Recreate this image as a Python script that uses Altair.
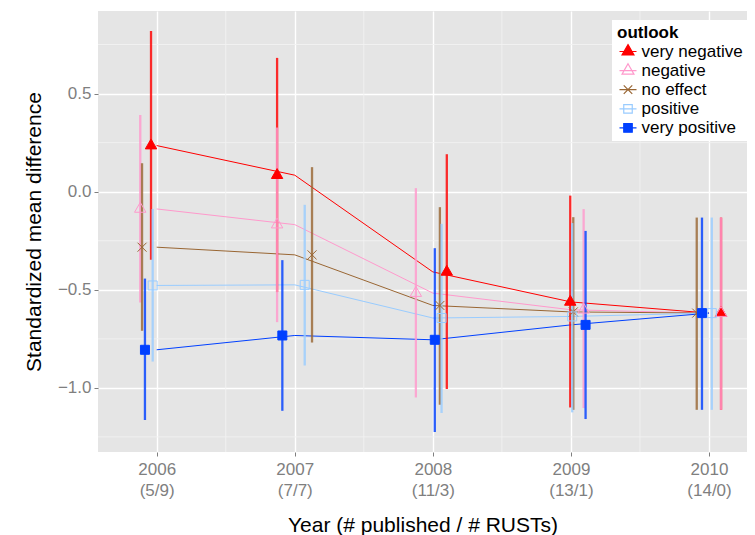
import altair as alt
import pandas as pd

outlooks = ["very negative", "negative", "no effect", "positive", "very positive"]
stroke_colors = ["#FF0000", "#FF99CC", "#996633", "#99CCFF", "#0040FF"]
fill_colors = ["#FF0000", "transparent", "transparent", "transparent", "#0040FF"]
years = [2006, 2007, 2008, 2009, 2010]
year_counts = ["(5/9)", "(7/7)", "(11/3)", "(13/1)", "(14/0)"]

# point estimates
mean_vneg = [0.235, 0.084, -0.409, -0.562, -0.619]
mean_neg = [-0.088, -0.168, -0.517, -0.602, -0.619]
mean_none = [-0.283, -0.322, -0.580, -0.613, -0.619]
mean_pos = [-0.478, -0.475, -0.644, -0.636, -0.619]
mean_vpos = [-0.806, -0.733, -0.755, -0.679, -0.619]

# interval lower ends
lo_vneg = [-0.347, -0.512, -1.006, -1.100, -1.112]
lo_neg = [-0.565, -0.665, -1.049, -1.103, -1.112]
lo_none = [-0.709, -0.769, -1.086, -1.112, -1.112]
lo_pos = [-0.866, -0.886, -1.128, -1.125, -1.112]
lo_vpos = [-1.164, -1.117, -1.225, -1.159, -1.112]

# interval upper ends
hi_vneg = [0.819, 0.682, 0.191, -0.020, -0.132]
hi_neg = [0.391, 0.327, 0.018, -0.089, -0.132]
hi_none = [0.145, 0.125, -0.079, -0.130, -0.132]
hi_pos = [-0.088, -0.067, -0.164, -0.160, -0.132]
hi_vpos = [-0.443, -0.349, -0.288, -0.200, -0.132]

# horizontal jitter of the intervals/points (years)
jit_vneg = [-0.041, -0.128, 0.101, -0.005, 0.087]
jit_neg = [-0.119, -0.128, -0.123, 0.092, 0.087]
jit_none = [-0.106, 0.125, 0.051, 0.017, -0.089]
jit_pos = [-0.029, 0.072, 0.063, 0.009, 0.020]
jit_vpos = [-0.085, -0.090, 0.014, 0.106, -0.051]

point_shapes = [
    "M0,-1.1L0.95,0.55L-0.95,0.55Z",
    "M0,-1.1L0.95,0.55L-0.95,0.55Z",
    "M-0.75,-0.75L0.75,0.75M-0.75,0.75L0.75,-0.75",
    "M-0.75,-0.75H0.75V0.75H-0.75Z",
    "M-0.75,-0.75H0.75V0.75H-0.75Z",
]
legend_shapes = [
    "M-1,0H1M0,-0.81L0.7,0.41L-0.7,0.41Z",
    "M-1,0H1M0,-0.81L0.7,0.41L-0.7,0.41Z",
    "M-1,0H1M-0.5,-0.5L0.5,0.5M-0.5,0.5L0.5,-0.5",
    "M-1,0H1M-0.5,-0.5H0.5V0.5H-0.5Z",
    "M-1,0H1M-0.5,-0.5H0.5V0.5H-0.5Z",
]

minor_x = [2006.5, 2007.5, 2008.5, 2009.5]
minor_y = [-1.25, -0.75, -0.25, 0.25, 0.75]
major_y = [-1.0, -0.5, 0.0, 0.5]

means = [mean_vneg, mean_neg, mean_none, mean_pos, mean_vpos]
los = [lo_vneg, lo_neg, lo_none, lo_pos, lo_vpos]
his = [hi_vneg, hi_neg, hi_none, hi_pos, hi_vpos]
jits = [jit_vneg, jit_neg, jit_none, jit_pos, jit_vpos]

rows = []
for gi, g in enumerate(outlooks):
    for yi, yr in enumerate(years):
        rows.append({
            "outlook": g, "order": gi, "year": yr,
            "xpos": yr + jits[gi][yi],
            "mean": means[gi][yi], "lo": los[gi][yi], "hi": his[gi][yi],
        })
df = pd.DataFrame(rows)

xscale = alt.Scale(domain=[2005.575, 2010.275], nice=False, zero=False)
yscale = alt.Scale(domain=[-1.327, 0.921], nice=False, zero=False)

label_expr = " : ".join(
    f"datum.value == {yr} ? ['{yr}', '{c}']" for yr, c in zip(years, year_counts)
) + " : datum.label"

xaxis = alt.Axis(values=years, grid=True, gridColor="white", gridWidth=1.4,
                 labelExpr=label_expr, labelLineHeight=21, labelFontSize=17,
                 labelColor="#7F7F7F", labelPadding=5, tickSize=4, tickColor="#7F7F7F",
                 domain=False, title="Year (# published / # RUSTs)", titleFontSize=21,
                 titleFontWeight="normal", titleColor="black", titlePadding=16)
yaxis = alt.Axis(values=major_y, format=".1f", grid=True, gridColor="white", gridWidth=1.4,
                 labelFontSize=17, labelColor="#7F7F7F", labelPadding=3, tickSize=4,
                 tickColor="#7F7F7F", domain=False, title="Standardized mean difference",
                 titleFontSize=21, titleFontWeight="normal", titleColor="black",
                 titlePadding=13)

def sc(rng):
    return alt.Scale(domain=outlooks, range=rng)

base = alt.Chart(df)

grid_x = alt.Chart(pd.DataFrame({"v": minor_x})).mark_rule(
    color="#F2F2F2", strokeWidth=0.9).encode(x=alt.X("v:Q", scale=xscale, axis=xaxis))
grid_y = alt.Chart(pd.DataFrame({"v": minor_y})).mark_rule(
    color="#F2F2F2", strokeWidth=0.9).encode(y=alt.Y("v:Q", scale=yscale, axis=yaxis))

lines = base.mark_line(strokeWidth=1).encode(
    x=alt.X("year:Q", scale=xscale, axis=xaxis),
    y=alt.Y("mean:Q", scale=yscale, axis=yaxis),
    stroke=alt.Stroke("outlook:N", scale=sc(stroke_colors), legend=None),
    order="year:Q",
)

bars = base.mark_rule(strokeWidth=2.3, opacity=0.82).encode(
    x=alt.X("xpos:Q", scale=xscale, axis=xaxis),
    y=alt.Y("lo:Q", scale=yscale, axis=yaxis),
    y2="hi:Q",
    stroke=alt.Stroke("outlook:N", scale=sc(stroke_colors), legend=None),
)

points = base.mark_point(size=144, strokeWidth=1, opacity=1).encode(
    x=alt.X("xpos:Q", scale=xscale, axis=xaxis),
    y=alt.Y("mean:Q", scale=yscale, axis=yaxis),
    stroke=alt.Stroke("outlook:N", scale=sc(stroke_colors), legend=None),
    fill=alt.Fill("outlook:N", scale=sc(fill_colors), legend=None),
    shape=alt.Shape("outlook:N", scale=sc(point_shapes), legend=None),
)

leg = alt.Legend(title="outlook", orient="none", legendX=514, legendY=9,
                 fillColor="white", padding=5, titleFontSize=17, titleFontWeight="bold",
                 titleColor="black", titlePadding=0, labelFontSize=17, labelColor="black",
                 symbolSize=289, symbolStrokeWidth=1.2, rowPadding=1.1, labelOffset=4,
                 symbolOffset=1.5, symbolOpacity=1, labelLimit=300)

legend_layer = base.mark_point(strokeWidth=1.2, opacity=1).encode(
    x=alt.X("xpos:Q", scale=xscale, axis=xaxis),
    y=alt.Y("mean:Q", scale=yscale, axis=yaxis),
    stroke=alt.Stroke("outlook:N", scale=sc(stroke_colors), legend=leg),
    fill=alt.Fill("outlook:N", scale=sc(fill_colors), legend=leg),
    shape=alt.Shape("outlook:N", scale=sc(legend_shapes), legend=leg),
).transform_filter("false")

chart = alt.layer(grid_x, grid_y, lines, bars, points, legend_layer).resolve_scale(
    stroke="independent", fill="independent", shape="independent"
).properties(
    width=649, height=441,
    autosize=alt.AutoSizeParams(type="none"),
    padding={"left": 90, "top": 3, "right": 0, "bottom": 83},
    background="white",
).configure(
    font="Liberation Sans",
    view=alt.ViewConfig(fill="#E5E5E5", stroke=None),
)

chart.save("out.html", embed_options={"renderer": "svg", "actions": False})
